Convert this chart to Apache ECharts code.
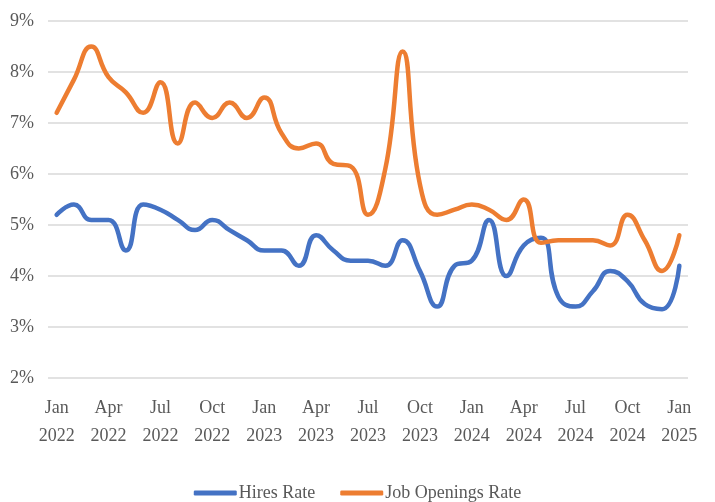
<!DOCTYPE html>
<html>
<head>
<meta charset="utf-8">
<script src="https://cdn.jsdelivr.net/npm/echarts@6/dist/echarts.min.js"></script>
<style>
html,body{margin:0;padding:0;background:#fff;}
#chart{width:715px;height:502px;}
</style>
</head>
<body>
<div id="chart"></div>
<script>
const months = ["Jan 2022","Feb 2022","Mar 2022","Apr 2022","May 2022","Jun 2022","Jul 2022","Aug 2022","Sep 2022","Oct 2022","Nov 2022","Dec 2022",
"Jan 2023","Feb 2023","Mar 2023","Apr 2023","May 2023","Jun 2023","Jul 2023","Aug 2023","Sep 2023","Oct 2023","Nov 2023","Dec 2023",
"Jan 2024","Feb 2024","Mar 2024","Apr 2024","May 2024","Jun 2024","Jul 2024","Aug 2024","Sep 2024","Oct 2024","Nov 2024","Dec 2024","Jan 2025"];
const hiresRate = [5.2,5.4,5.1,5.1,4.5,5.4,5.3,5.1,4.9,5.1,4.9,4.7,
4.5,4.5,4.2,4.8,4.5,4.3,4.3,4.2,4.7,4.1,3.4,4.2,
4.3,5.1,4.0,4.6,4.75,3.6,3.4,3.7,4.1,3.9,3.45,3.35,4.2];
const jobOpeningsRate = [7.2,7.85,8.5,7.9,7.6,7.2,7.8,6.6,7.4,7.1,7.4,7.1,
7.5,6.8,6.5,6.6,6.2,6.15,5.2,6.1,8.4,5.8,5.2,5.3,
5.4,5.3,5.1,5.5,4.65,4.7,4.7,4.7,4.6,5.2,4.7,4.1,4.8];
const yTicks = [2,3,4,5,6,7,8,9];
const seriesNames = ["Hires Rate","Job Openings Rate"];

const FONT = "Liberation Serif";
const chart = echarts.init(document.getElementById('chart'), null, {renderer:'canvas'});
chart.setOption({
  animation:false,
  backgroundColor:'#ffffff',
  textStyle:{fontFamily:FONT},
  grid:{left:48,right:27,top:21,bottom:124,containLabel:false},
  legend:{
    top:479,
    left:'center',
    itemWidth:43,
    itemHeight:5,
    itemGap:25,
    icon:'roundRect',
    textStyle:{fontFamily:FONT,fontSize:18,color:'#595959',padding:[0,0,0,-3]},
    data:seriesNames
  },
  xAxis:{
    type:'category',
    data:months,
    boundaryGap:true,
    axisLine:{show:false},
    axisTick:{show:false},
    axisLabel:{
      interval:2,
      margin:16,
      fontFamily:FONT,
      fontSize:18,
      lineHeight:28,
      color:'#595959',
      formatter:function(v){return v.replace(' ','\n');}
    }
  },
  yAxis:{
    type:'value',
    min:yTicks[0],
    max:yTicks[yTicks.length-1],
    interval:1,
    axisLine:{show:false},
    axisTick:{show:false},
    splitLine:{lineStyle:{color:'#d9d9d9',width:1.5}},
    axisLabel:{margin:14,fontFamily:FONT,fontSize:18,color:'#595959',formatter:function(v){return v+'%';}}
  },
  series:[
    {name:seriesNames[0],type:'line',data:hiresRate,smooth:0.5,showSymbol:false,symbol:'none',
     lineStyle:{color:'#4472C4',width:4.5,cap:'round',join:'round'},itemStyle:{color:'#4472C4'}},
    {name:seriesNames[1],type:'line',data:jobOpeningsRate,smooth:0.5,showSymbol:false,symbol:'none',
     lineStyle:{color:'#ED7D31',width:4.5,cap:'round',join:'round'},itemStyle:{color:'#ED7D31'}}
  ]
});
</script>
</body>
</html>
